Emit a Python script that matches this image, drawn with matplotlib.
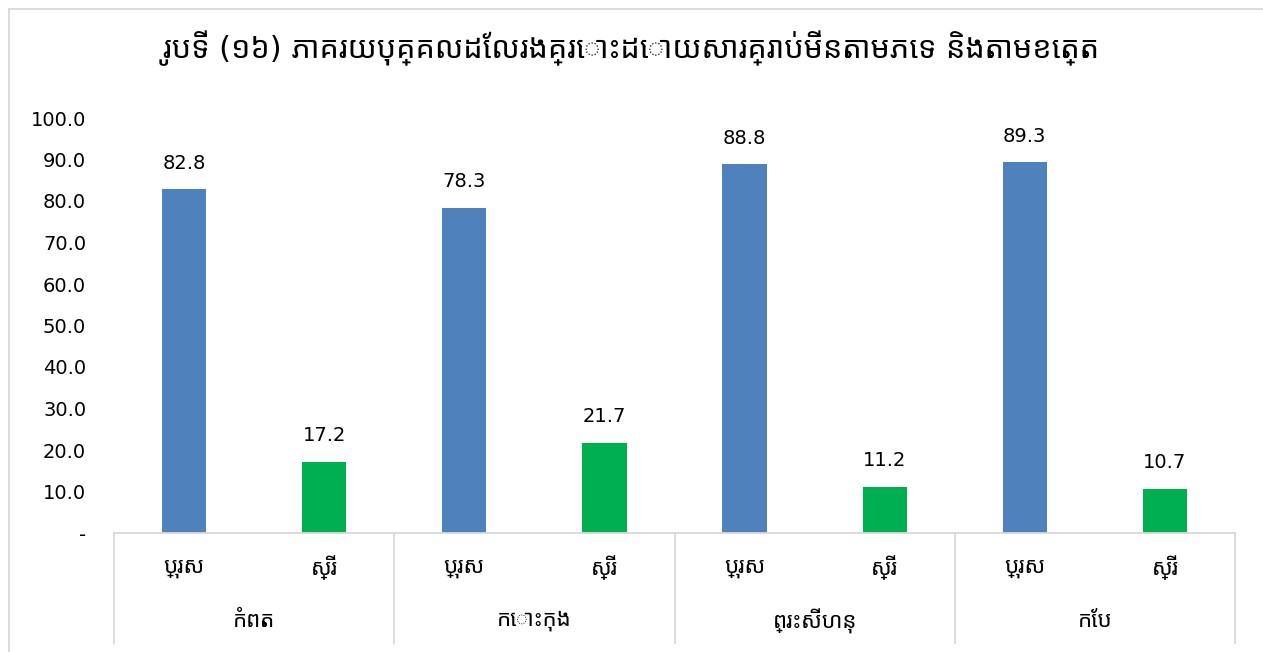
import matplotlib
matplotlib.use("Agg")
import matplotlib.pyplot as plt
from matplotlib import font_manager
from matplotlib.ft2font import FT2Font
from matplotlib.lines import Line2D

title = "រូបទី (១៦) ភាគរយបុគ្គលដែលរងគ្រោះដោយសារគ្រាប់មីនតាមភេទ និងតាមខេត្ត"
provinces = ["កំពត", "កោះកុង", "ព្រះសីហនុ", "កែប"]
sexes = ["ប្រុស", "ស្រី"]
male = [82.8, 78.3, 88.8, 89.3]
female = [17.2, 21.7, 11.2, 10.7]
yticks = [0, 10, 20, 30, 40, 50, 60, 70, 80, 90, 100]

# look for installed fonts that have Khmer glyphs, prefer a proper Khmer sans
cands = []
for f in font_manager.fontManager.ttflist:
    try:
        if 0x1780 in FT2Font(f.fname).get_charmap():
            cands.append(f.name)
    except Exception:
        pass

def rank(n):
    low = n.lower()
    r = 0
    if "khmer" in low:
        r -= 10
    if "sans" in low:
        r -= 3
    if "mono" in low or "code" in low:
        r += 10
    return r

cands = sorted(set(cands), key=rank)
families = ["DejaVu Sans"] + cands[:1]
plt.rcParams["font.family"] = families

blue = "#4F81BD"
green = "#00B050"
grid = "#D9D9D9"

fig = plt.figure(figsize=(12.63, 6.52), dpi=100)
ax = fig.add_axes([114 / 1263, 1 - 533 / 652, (1235 - 114) / 1263, 415 / 652])

xs = []
vals = []
cols = []
for i in range(len(provinces)):
    xs += [2 * i, 2 * i + 1]
    vals += [male[i], female[i]]
    cols += [blue, green]

bars = ax.bar(xs, vals, width=0.315, color=cols)
for b, v in zip(bars, vals):
    ax.annotate(f"{v:.1f}", (b.get_x() + b.get_width() / 2, v),
                xytext=(0, 12), textcoords="offset points",
                ha="center", va="bottom", fontsize=14, color="#000000")

ax.set_xlim(-0.5, 7.5)
ax.set_ylim(0, 100)
ax.set_yticks(yticks)
ax.set_yticklabels(["-" if t == 0 else f"{t:.1f}" for t in yticks], fontsize=14)
ax.tick_params(axis="y", length=0, pad=20)
ax.set_xticks([])
for s in ["top", "right", "left"]:
    ax.spines[s].set_visible(False)
ax.spines["bottom"].set_color(grid)
ax.spines["bottom"].set_linewidth(1.3)

# category separators below the axis
tr = ax.get_xaxis_transform()
for k in range(len(provinces) + 1):
    ax.add_line(Line2D([2 * k - 0.5, 2 * k - 0.5], [0, -0.265], transform=tr,
                       color=grid, lw=1.3, clip_on=False))

for x in xs:
    ax.text(x, -0.084, sexes[x % 2], transform=tr, ha="center", va="center",
            fontsize=16, color="#000000")
for i, p in enumerate(provinces):
    ax.text(2 * i + 0.5, -0.212, p, transform=tr, ha="center", va="center",
            fontsize=16, color="#000000")

t = fig.text(0.5, 1 - 48 / 652, title, ha="center", va="center", fontsize=22,
             color="#000000")

# shrink the title if the fallback font makes it wider than the chart
fig.canvas.draw()
w = t.get_window_extent().width
if w > 950:
    t.set_fontsize(22 * 950 / w)

# chart border: only its top and left edges fall inside the picture
top = 1 - 8.5 / 652
left = 9 / 1263
fig.add_artist(Line2D([left, 1], [top, top], transform=fig.transFigure,
                      color=grid, lw=1.3))
fig.add_artist(Line2D([left, left], [0, top], transform=fig.transFigure,
                      color=grid, lw=1.3))

fig.savefig("out.png", dpi=100)
